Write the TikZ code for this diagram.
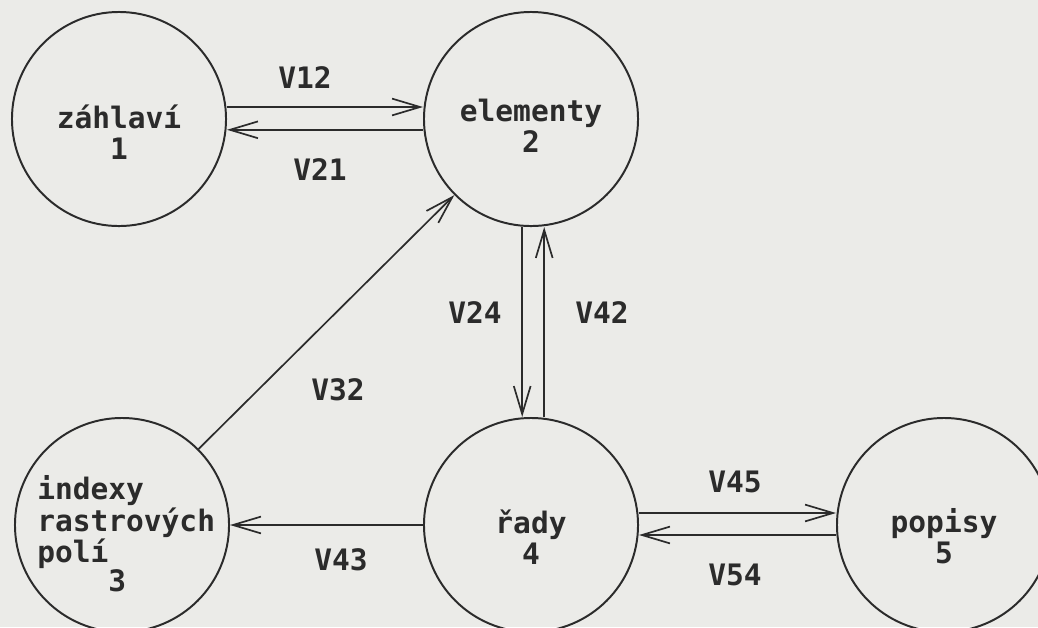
\documentclass[tikz,border=0pt]{standalone}
\usepackage{fontspec}
\setmonofont{DejaVu Sans Mono}
\usetikzlibrary{
  arrows.meta,
  positioning,
  calc
}
\definecolor{dfPaper}{HTML}{EBEBE8}
\definecolor{dfInk}{HTML}{2B2B2B}
\newcommand{\dffont}{\fontsize{21}{22}\selectfont\ttfamily\bfseries}
\tikzset{
  store/.style={draw=dfInk, circle, line width=1.4pt, minimum size=5.35cm, inner sep=0pt},
  storetext/.style={font=\dffont, text=dfInk, align=center, inner sep=0pt},
  flow/.style={-{Straight Barb[length=7mm, width=4.2mm]}, line width=1.2pt, dfInk},
  flowtag/.style={font=\dffont, text=dfInk, inner sep=1pt}
}

\begin{document}
\begin{tikzpicture}[x=0.025cm, y=-0.025cm]
  \useasboundingbox[fill=dfPaper] (0,0) rectangle (1038,627);
  \clip (0,0) rectangle (1038,627);
  % data stores
  \node[store] (c1) at (119,119) {};
  \node[store] (c2) at (531,119) {};
  \node[store] (c3) at (122,525) {};
  \node[store] (c4) at (531,525) {};
  \node[store] (c5) at (944,525) {};
  \node[storetext] (t1) at ([yshift=-0.32cm]c1.center) {záhlaví\\1};
  \node[storetext] (t2) at ([yshift=-0.18cm]c2.center) {elementy\\2};
  \node[storetext, font=\fontsize{21}{19.5}\selectfont\ttfamily\bfseries, align=left, anchor=west] (t3) at (37,534) {indexy\\rastrových\\polí\\\phantom{0000}3};
  \node[storetext] (t4) at ([yshift=-0.3cm]c4.center) {řady\\4};
  \node[storetext] (t5) at ([yshift=-0.27cm]c5.center) {popisy\\5};
  % flows
  \draw[flow] ([yshift=0.3cm]c1.east) -- ([yshift=0.3cm]c2.west);
  \draw[flow] ([yshift=-0.27cm]c2.west) -- ([yshift=-0.27cm]c1.east);
  \draw[flow] ([xshift=-0.22cm]c2.south) -- ([xshift=-0.22cm]c4.north);
  \draw[flow] ([xshift=0.33cm]c4.north) -- ([xshift=0.33cm]c2.south);
  \draw[flow] (c3) -- (c2);
  \draw[flow] (c4) -- (c3);
  \draw[flow] ([yshift=0.3cm]c4.east) -- ([yshift=0.3cm]c5.west);
  \draw[flow] ([yshift=-0.25cm]c5.west) -- ([yshift=-0.25cm]c4.east);
  % flow labels
  \node[flowtag] (l12) at (305,78) {V12};
  \node[flowtag] (l21) at (320,170) {V21};
  \node[flowtag] (l24) at (475,313) {V24};
  \node[flowtag] (l42) at (602,313) {V42};
  \node[flowtag] (l32) at (338,390) {V32};
  \node[flowtag] (l43) at (341,560) {V43};
  \node[flowtag] (l45) at (735,482) {V45};
  \node[flowtag] (l54) at (735,575) {V54};
\end{tikzpicture}
\end{document}
